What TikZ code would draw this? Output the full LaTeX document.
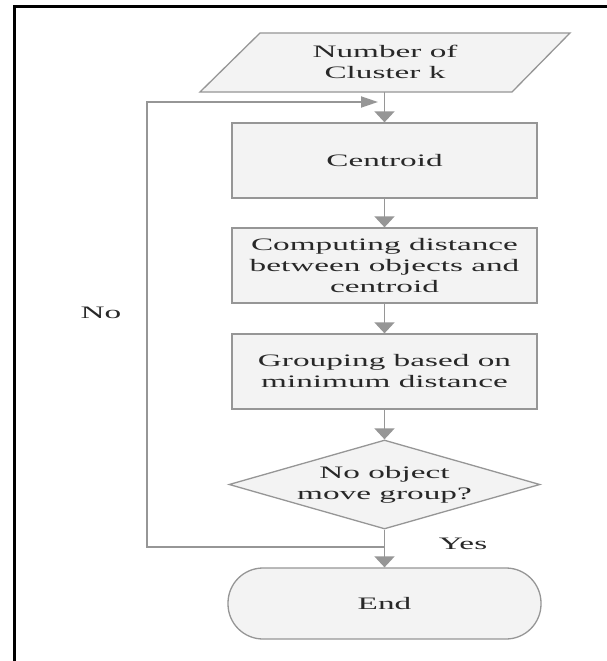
\documentclass[tikz,border=0pt]{standalone}
\usepackage{fontspec}
\setmainfont{Liberation Serif}[FakeStretch=1.9]
\usetikzlibrary{shapes.geometric,arrows.meta}
\definecolor{edgec}{RGB}{150,150,150}
\definecolor{boxfill}{RGB}{243,243,243}
\definecolor{txt}{RGB}{40,40,40}
\begin{document}
\begin{tikzpicture}[x=1pt,y=-1pt,
  every node/.style={text=txt, font=\fontsize{17.5}{21}\selectfont, align=center, inner sep=0pt},
  procbox/.style={draw=edgec, line width=1.3pt, fill=boxfill, minimum width=305pt, minimum height=75pt},
  decbox/.style={draw=edgec, line width=1.3pt, fill=boxfill, diamond, aspect=3.5, minimum width=311pt, minimum height=89pt},
  termbox/.style={draw=edgec, line width=1.3pt, fill=boxfill, rounded corners=35pt, minimum width=313pt, minimum height=71pt},
  conn/.style={draw=edgec, line width=1.8pt, -{Triangle[length=11pt,width=20pt,fill=edgec]}},
  loopconn/.style={draw=edgec, line width=1.8pt, -{Triangle[length=17pt,width=11pt,fill=edgec]}},
  plainline/.style={draw=edgec, line width=1.8pt},
  lbl/.style={text=txt}
]
\useasboundingbox (0,0) rectangle (607,661);
\fill[white] (0,0) rectangle (607,661);
\draw[black, line width=3pt] (14.5,661) -- (14.5,6.5) -- (607,6.5);

% input parallelogram
\draw[draw=edgec, line width=1.3pt, fill=boxfill] (200,92) -- (512,92) -- (570,33) -- (260,33) -- cycle;
\node (in) at (385,62) {Number of\\Cluster k};
\coordinate (inb) at (384.5,92);

\node[procbox] (cen) at (384.5,160.5) {Centroid};
\node[procbox] (comp) at (384.5,265.5) {Computing distance\\between objects and\\centroid};
\node[procbox] (grp) at (384.5,371.5) {Grouping based on\\minimum distance};
\node[decbox] (dec) at (384.5,484.5) {No object\\move group?};
\node[termbox] (fin) at (384.5,603.5) {End};

\coordinate (split) at (384.5,547);
\coordinate (loopend) at (378,102);

\draw[conn] (inb) -- (cen.north);
\draw[conn] (cen.south) -- (comp.north);
\draw[conn] (comp.south) -- (grp.north);
\draw[conn] (grp.south) -- (dec.north);
\draw[conn] (dec.south) -- (fin.north);
\draw[loopconn] (split) -- ++(-237.5,0) |- (loopend);

\node[lbl] (no) at (101,313) {No};
\node[lbl] (yes) at (463,544) {Yes};
\end{tikzpicture}
\end{document}
